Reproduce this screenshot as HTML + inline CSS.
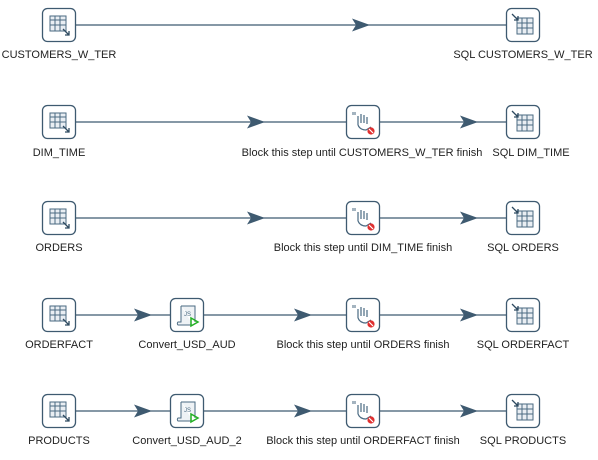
<!DOCTYPE html>
<html><head><meta charset="utf-8"><style>
html,body{margin:0;padding:0;background:#fff;width:598px;height:460px;overflow:hidden}
svg text{font-family:"Liberation Sans",sans-serif;font-size:11px;fill:#222}
</style></head><body>
<svg width="598" height="460" viewBox="0 0 598 460" xmlns="http://www.w3.org/2000/svg">
<defs>
<g id="box"><rect x="0.5" y="0.5" width="33" height="33" rx="5" fill="#fff" stroke="#3e5a70" stroke-width="1.3"/></g>
<g id="tin"><use href="#box"/>
<g stroke="#4a6a82" fill="none" stroke-width="1"><rect x="8" y="8" width="16" height="15" fill="#e9eef3"/><line x1="8" y1="12" x2="24" y2="12"/><line x1="8" y1="17" x2="24" y2="17"/><line x1="13" y1="8" x2="13" y2="23"/><line x1="18" y1="8" x2="18" y2="23"/></g>
<path d="M21 21 L27 27 M27 23 L27 27 L23 27" stroke="#2e4a60" stroke-width="1.3" fill="none"/></g>
<g id="tout"><use href="#box"/>
<g stroke="#4a6a82" fill="none" stroke-width="1"><rect x="11" y="10" width="16" height="16" fill="#e9eef3"/><line x1="11" y1="15" x2="27" y2="15"/><line x1="11" y1="20" x2="27" y2="20"/><line x1="16" y1="10" x2="16" y2="26"/><line x1="21" y1="10" x2="21" y2="26"/></g>
<path d="M6 6 L12 12 M12 8 L12 12 L8 12" stroke="#2e4a60" stroke-width="1.3" fill="none"/></g>
<g id="js"><use href="#box"/>
<path d="M11 8 h14 v16 M11 8 v16 h-3 a2 2 0 0 0 0 3 h15" stroke="#4a6a82" fill="#eef2f5" stroke-width="1"/>
<text x="14" y="18" style="font-size:6px;fill:#4a6a82">JS</text>
<path d="M21 20 L28 24 L21 28 Z" fill="none" stroke="#22b022" stroke-width="1.5"/></g>
<g id="blk"><use href="#box"/>
<path d="M7 7 v3 M9 7 v3" stroke="#4a6a82" stroke-width="1"/>
<path d="M12 20 v-9 M15 18 v-9 M18 18 v-8 M21 19 v-7 M12 20 q2 5 8 5 l5 -3" stroke="#4a6a82" fill="none" stroke-width="1.2"/>
<circle cx="25" cy="26" r="3.6" fill="#e03030"/><line x1="23" y1="24" x2="27" y2="28" stroke="#fff" stroke-width="1.2"/></g>
<path id="ah" d="M-18 -6.5 L0 0 L-18 6.5 L-14 0 Z" fill="#3e5a70"/>
</defs>
<g stroke="#3e5a70" stroke-width="1.3">
<line x1="76" y1="25" x2="506" y2="25"/>
<line x1="76" y1="122" x2="346" y2="122"/><line x1="380" y1="122" x2="506" y2="122"/>
<line x1="76" y1="218" x2="346" y2="218"/><line x1="380" y1="218" x2="506" y2="218"/>
<line x1="76" y1="315" x2="170" y2="315"/><line x1="204" y1="315" x2="346" y2="315"/><line x1="380" y1="315" x2="506" y2="315"/>
<line x1="76" y1="411" x2="170" y2="411"/><line x1="204" y1="411" x2="346" y2="411"/><line x1="380" y1="411" x2="506" y2="411"/>
</g>
<use href="#ah" x="370" y="25"/>
<use href="#ah" x="265" y="122"/><use href="#ah" x="478" y="122"/>
<use href="#ah" x="265" y="218"/><use href="#ah" x="478" y="218"/>
<use href="#ah" x="152" y="315"/><use href="#ah" x="312" y="315"/><use href="#ah" x="478" y="315"/>
<use href="#ah" x="152" y="411"/><use href="#ah" x="312" y="411"/><use href="#ah" x="478" y="411"/>

<use href="#tin" x="42" y="8"/><use href="#tout" x="506" y="8"/>
<use href="#tin" x="42" y="105"/><use href="#blk" x="346" y="105"/><use href="#tout" x="506" y="105"/>
<use href="#tin" x="42" y="201"/><use href="#blk" x="346" y="201"/><use href="#tout" x="506" y="201"/>
<use href="#tin" x="42" y="298"/><use href="#js" x="170" y="298"/><use href="#blk" x="346" y="298"/><use href="#tout" x="506" y="298"/>
<use href="#tin" x="42" y="394"/><use href="#js" x="170" y="394"/><use href="#blk" x="346" y="394"/><use href="#tout" x="506" y="394"/>

<g text-anchor="middle">
<text x="59" y="58">CUSTOMERS_W_TER</text><text x="523" y="58">SQL CUSTOMERS_W_TER</text>
<text x="59" y="156">DIM_TIME</text><text x="362" y="156">Block this step until CUSTOMERS_W_TER finish</text><text x="531" y="156">SQL DIM_TIME</text>
<text x="59" y="251">ORDERS</text><text x="363" y="251">Block this step until DIM_TIME finish</text><text x="523" y="251">SQL ORDERS</text>
<text x="59" y="348">ORDERFACT</text><text x="187" y="348">Convert_USD_AUD</text><text x="363" y="348">Block this step until ORDERS finish</text><text x="523" y="348">SQL ORDERFACT</text>
<text x="59" y="444">PRODUCTS</text><text x="187" y="444">Convert_USD_AUD_2</text><text x="363" y="444">Block this step until ORDERFACT finish</text><text x="523" y="444">SQL PRODUCTS</text>
</g>
</svg>
</body></html>
